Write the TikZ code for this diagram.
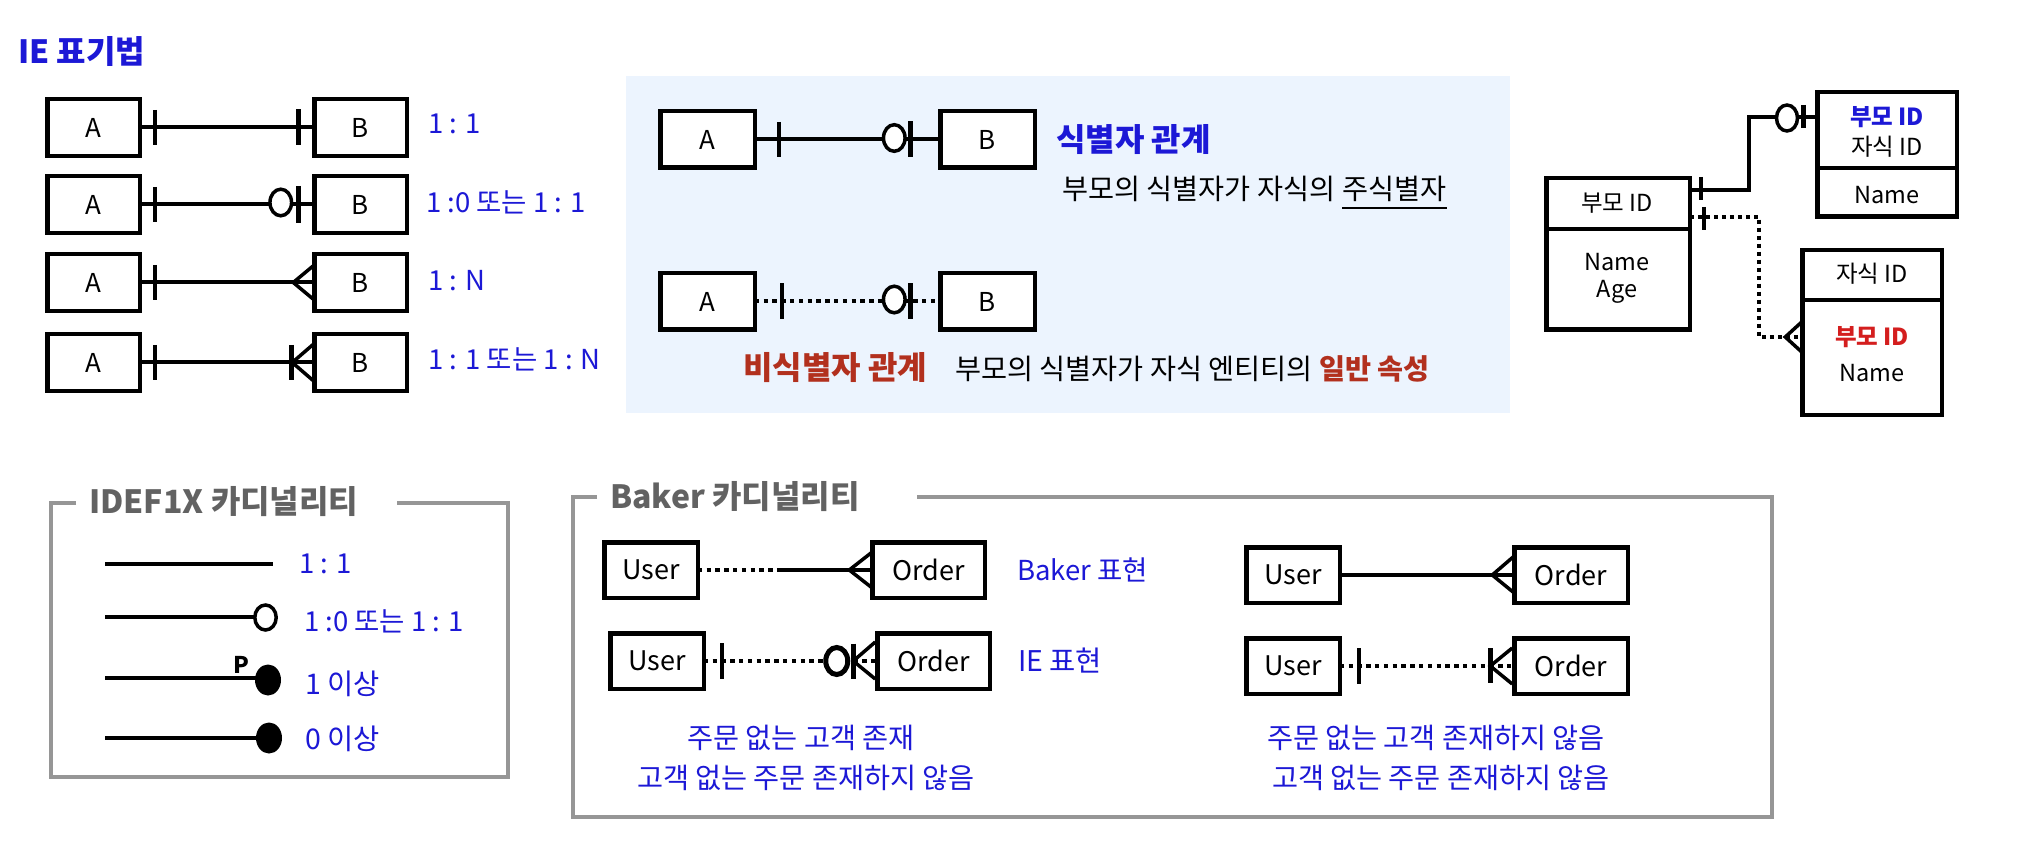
\documentclass[tikz,border=0pt]{standalone}
\usepackage{fontspec}
\setmainfont{Noto Sans CJK KR}
\usetikzlibrary{calc}
\definecolor{ieblue}{RGB}{28,24,214}
\definecolor{bgblue}{RGB}{236,244,254}
\definecolor{brred}{RGB}{178,48,30}
\definecolor{pred}{RGB}{212,30,30}
\definecolor{frgray}{RGB}{150,150,150}
\definecolor{ttgray}{RGB}{98,98,98}
\newcommand\fsz[1]{\fontsize{#1}{#1}\selectfont}
\begin{document}
\begin{tikzpicture}[x=1pt,y=-1pt,
  box/.style={draw, line width=4.5, inner sep=0, outer sep=0, fill=white, font=\fsz{26}},
  ln/.style={line width=4},
  dots/.style={line width=4, dash pattern=on 4.5pt off 4.3pt},
  tk/.style={line width=4.5},
  crow/.style={line width=3.5},
  oo/.style={line width=3.5, fill=white},
  txt/.style={inner sep=0, font=\fsz{28.3}},
  lab/.style={inner sep=0, anchor=west, text=ieblue, font=\fsz{27.5}},
  ttl/.style={inner sep=0, anchor=west, font=\fsz{32}\bfseries},
  frame/.style={line width=4, draw=frgray},
  tbl/.style={draw, line width=4.5, inner sep=0, outer sep=0},
  ttxt/.style={inner sep=0, font=\fsz{23.5}}]
\useasboundingbox (0,0) rectangle (2038,850);
\fill[white] (0,0) rectangle (2038,850);

% ---------------- IE notation ----------------
\node[ttl, text=ieblue] (ietitle) at (18,52) {IE 표기법};
\foreach \i/\y in {1/127.5,2/204.5,3/282.5,4/362.5}{
  \node[box, minimum width=92.5, minimum height=57] (a\i) at (93.5,\y) {A};
  \node[box, minimum width=92.5, minimum height=57] (b\i) at (360.5,\y) {B};
  \draw[ln] (a\i.east) -- (b\i.west);
  \draw[tk] ($(a\i.east)+(15,-17.5)$) -- ++(0,35);
}
% row 1
\draw[tk] ($(b1.west)+(-16,-18)$) -- ++(0,36);
% row 2
\draw[oo] ($(b2.west)+(-33.5,-2)$) ellipse [x radius=10.8pt, y radius=13.3pt];
\draw[tk] ($(b2.west)+(-16,-18.5)$) -- ++(0,37);
% row 3
\draw[crow] ($(b3.west)+(0,-17.5)$) -- ($(b3.west)+(-21,0)$) -- ($(b3.west)+(0,17.5)$);
% row 4
\draw[tk] ($(b4.west)+(-23,-17.5)$) -- ++(0,35);
\draw[crow] ($(b4.west)+(0,-19)$) -- ($(b4.west)+(-22,0)$) -- ($(b4.west)+(0,19)$);
\node[lab] (l1) at (428,124) {1 : 1};
\node[lab] (l2) at (426,202) {1 :0 또는 1 : 1};
\node[lab] (l3) at (428,281) {1 : N};
\node[lab] (l4) at (428,359) {1 : 1 또는 1 : N};

% ---------------- identifying / non-identifying ----------------
\fill[bgblue] (626,76) rectangle (1510,413);
\node[box, minimum width=94.5, minimum height=56.5] (ma1) at (707.5,139.5) {A};
\node[box, minimum width=94.5, minimum height=56.5] (mb1) at (987.5,139.5) {B};
\draw[ln] (ma1.east) -- (mb1.west);
\draw[tk] ($(ma1.east)+(24,-17.5)$) -- ++(0,35);
\draw[oo] ($(mb1.west)+(-46,-1.5)$) ellipse [x radius=10.8pt, y radius=13.3pt];
\draw[tk] ($(mb1.west)+(-30,-18)$) -- ++(0,36);

\node[box, minimum width=94.5, minimum height=56.5] (ma2) at (707.5,301.5) {A};
\node[box, minimum width=94.5, minimum height=56.5] (mb2) at (987.5,301.5) {B};
\draw[dots] (ma2.east) -- (mb2.west);
\draw[tk] ($(ma2.east)+(27,-18)$) -- ++(0,36);
\draw[oo] ($(mb2.west)+(-46,-2)$) ellipse [x radius=10.8pt, y radius=13.3pt];
\draw[tk] ($(mb2.west)+(-30,-18)$) -- ++(0,36);

\node[ttl, text=ieblue] (idt) at (1056,140) {식별자 관계};
\node[txt, anchor=west] (idd) at (1062,189) {부모의 식별자가 자식의};
\node[txt, anchor=base west] (idu) at ($(idd.base east)+(7,0)$) {주식별자};
\draw[line width=1.6] ($(idu.base west)+(0,8.5)$) -- ($(idu.base east)+(0,8.5)$);
\node[ttl, text=brred] (nidt) at (743,368) {비식별자 관계};
\node[txt, anchor=west] (nidd) at (955,369) {부모의 식별자가 자식 엔티티의 {\color{brred}\bfseries 일반 속성}};

% ---------------- table example ----------------
\node[tbl, minimum width=143.5, minimum height=151.5] (pt) at (1618,254) {};
\node[tbl, minimum width=139.5, minimum height=124.5] (c1) at (1887,154.5) {};
\node[tbl, minimum width=139.5, minimum height=164.5] (c2) at (1872,332.5) {};
\coordinate (ps) at (0,229);
\coordinate (c1s) at (0,168);
\coordinate (c2s) at (0,300);
\draw[line width=4.5] (pt.west |- ps) -- (pt.east |- ps);
\draw[line width=4.5] (c1.west |- c1s) -- (c1.east |- c1s);
\draw[line width=4.5] (c2.west |- c2s) -- (c2.east |- c2s);
\node[ttxt] (pt1) at (1617,203) {부모 ID};
\node[ttxt] (pt2) at (1617,262) {Name};
\node[ttxt] (pt3) at (1617,292) {Age};
\node[ttxt, text=ieblue, font=\fsz{23.5}\bfseries] (c11) at (1887,117) {부모 ID};
\node[ttxt] (c12) at (1887,147) {자식 ID};
\node[ttxt] (c13) at (1887,195) {Name};
\node[ttxt] (c21) at (1872,274) {자식 ID};
\node[ttxt, text=pred, font=\fsz{23.5}\bfseries] (c22) at (1872,337) {부모 ID};
\node[ttxt] (c23) at (1872,373) {Name};
% identifying connector
\coordinate (py1) at (0,190);
\coordinate (cy1) at (0,117);
\coordinate (bend1) at (1749,0);
\draw[ln] (pt.east |- py1) -- (bend1 |- py1) -- (bend1 |- cy1) -- (c1.west |- cy1);
\draw[tk] (1701,177) -- (1701,200);
\draw[oo] (1787,118) ellipse [x radius=10.5pt, y radius=13pt];
\draw[line width=5] (1803,105) -- (1803,128);
% non-identifying connector
\coordinate (py2) at (0,217);
\coordinate (cy2) at (0,337);
\coordinate (bend2) at (1759,0);
\draw[dots, dash pattern=on 4pt off 4pt] (pt.east |- py2) -- (bend2 |- py2) -- (bend2 |- cy2) -- (c2.west |- cy2);
\draw[tk] (1704,207) -- (1704,230);
\draw[crow] ($(c2.west |- cy2)+(0,-15.5)$) -- ($(c2.west |- cy2)+(-17,0)$) -- ($(c2.west |- cy2)+(0,15.5)$);

% ---------------- IDEF1X ----------------
\coordinate (f1a) at (76,503);
\coordinate (f1b) at (397,503);
\draw[frame] (f1a) -- (51,503) -- (51,777) -- (508,777) -- (508,503) -- (f1b);
\node[ttl, text=ttgray] (f1t) at (89,502) {IDEF1X 카디널리티};
\draw[ln] (105,564) -- (273,564);
\draw[ln] (105,617) -- (254,617);
\draw[oo] (265.5,617.5) ellipse [x radius=10.7pt, y radius=12.5pt];
\draw[ln] (105,678) -- (262,678);
\fill (268,680) ellipse [x radius=13pt, y radius=15.5pt];
\node[inner sep=0, font=\fsz{23}\bfseries] (pp) at (241,665) {P};
\draw[ln] (105,738) -- (262,738);
\fill (269,738) ellipse [x radius=13pt, y radius=15.5pt];
\node[lab] (i1) at (299,564) {1 : 1};
\node[lab] (i2) at (304,621) {1 :0 또는 1 : 1};
\node[lab, font=\fsz{28.5}] (i3) at (305,684) {1 이상};
\node[lab, font=\fsz{28.5}] (i4) at (305,739) {0 이상};

% ---------------- Baker ----------------
\coordinate (f2a) at (597,497);
\coordinate (f2b) at (917,497);
\draw[frame] (f2a) -- (573,497) -- (573,817) -- (1772,817) -- (1772,497) -- (f2b);
\node[ttl, text=ttgray] (f2t) at (610,497) {Baker 카디널리티};

\node[box, font=\fsz{27}, minimum width=93.5, minimum height=55.5] (u1) at (651,570) {User};
\node[box, font=\fsz{27}, minimum width=112.5, minimum height=55.5] (o1) at (928.5,570) {Order};
\coordinate (mid1) at (777,570);
\draw[dots] (u1.east) -- (mid1);
\draw[ln] (mid1) -- (o1.west);
\draw[crow] ($(o1.west)+(0,-18)$) -- ($(o1.west)+(-23,0)$) -- ($(o1.west)+(0,18)$);
\node[lab] (bk1) at (1017,570) {Baker 표현};

\node[box, font=\fsz{27}, minimum width=93.5, minimum height=55.5] (u2) at (657,661) {User};
\node[box, font=\fsz{27}, minimum width=112.5, minimum height=55.5] (o2) at (933.5,661) {Order};
\draw[dots] (u2.east) -- (o2.west);
\draw[tk] ($(u2.east)+(18,-18)$) -- ++(0,36);
\draw[line width=5, fill=white] ($(o2.west)+(-40.5,0)$) ellipse [x radius=11pt, y radius=13.5pt];
\draw[tk] ($(o2.west)+(-24,-17.5)$) -- ++(0,35);
\draw[crow] ($(o2.west)+(-2,-19)$) -- ($(o2.west)+(-24,0)$) -- ($(o2.west)+(-2,18)$);
\node[lab, font=\fsz{28.5}] (bk2) at (1018,661) {IE 표현};
\node[txt, text=ieblue] (bt1) at (801,738) {주문 없는 고객 존재};
\node[txt, text=ieblue] (bt2) at (806,778) {고객 없는 주문 존재하지 않음};

\node[box, font=\fsz{27}, minimum width=93.5, minimum height=55.5] (u3) at (1293,575) {User};
\node[box, font=\fsz{27}, minimum width=113.5, minimum height=55.5] (o3) at (1571,575) {Order};
\draw[ln] (u3.east) -- (o3.west);
\draw[crow] ($(o3.west)+(0,-19)$) -- ($(o3.west)+(-22,0)$) -- ($(o3.west)+(0,18)$);

\node[box, font=\fsz{27}, minimum width=93.5, minimum height=55.5] (u4) at (1293,666) {User};
\node[box, font=\fsz{27}, minimum width=113.5, minimum height=55.5] (o4) at (1571,666) {Order};
\draw[dots] (u4.east) -- (o4.west);
\draw[tk] ($(u4.east)+(19,-18)$) -- ++(0,36);
\draw[tk] ($(o4.west)+(-24,-18)$) -- ++(0,35);
\draw[crow] ($(o4.west)+(-2,-18)$) -- ($(o4.west)+(-24,0)$) -- ($(o4.west)+(-2,18)$);
\node[txt, text=ieblue] (bt3) at (1436,738) {주문 없는 고객 존재하지 않음};
\node[txt, text=ieblue] (bt4) at (1441,778) {고객 없는 주문 존재하지 않음};
\end{tikzpicture}
\end{document}
